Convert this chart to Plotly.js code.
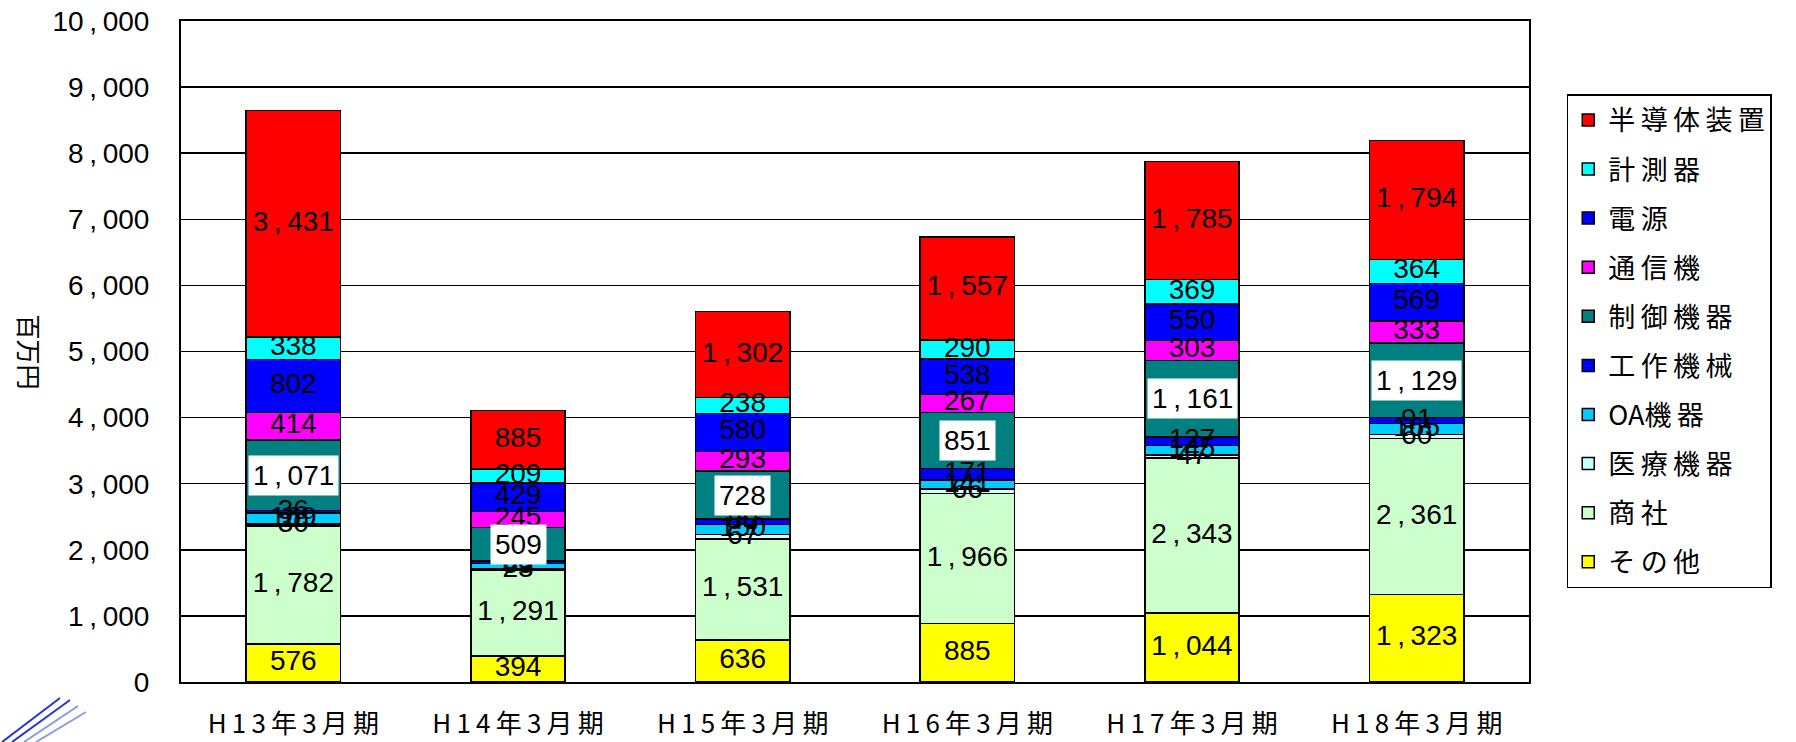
<!DOCTYPE html>
<html>
<head>
<meta charset="utf-8">
<script src="https://cdn.plot.ly/plotly-3.0.1.min.js"></script>
<style>
  html, body { margin: 0; padding: 0; background: #fff; }
  #chart { width: 1796px; height: 742px; }
</style>
</head>
<body>
<div id="chart"></div>
<script>
// 決算期
var categories = ['H13年3月期', 'H14年3月期', 'H15年3月期', 'H16年3月期', 'H17年3月期', 'H18年3月期'];

// 売上（百万円）、下から積み上げ順
var sonota   = [576, 394, 636, 885, 1044, 1323];
var shosha   = [1782, 1291, 1531, 1966, 2343, 2361];
var iryo     = [30, 23, 67, 66, 47, 60];
var oa       = [169, 83, 150, 141, 145, 165];
var kosaku   = [36, 38, 80, 171, 127, 91];
var seigyo   = [1071, 509, 728, 851, 1161, 1129];
var tsushin  = [414, 245, 293, 267, 303, 333];
var dengen   = [802, 429, 580, 538, 550, 569];
var keisoku  = [338, 209, 238, 290, 369, 364];
var handotai = [3431, 885, 1302, 1557, 1785, 1794];

var names  = ['その他', '商社', '医療機器', 'OA機器', '工作機械', '制御機器', '通信機', '電源', '計測器', '半導体装置'];
var values = [sonota, shosha, iryo, oa, kosaku, seigyo, tsushin, dengen, keisoku, handotai];
var colors = ['#FFFF00', '#CCFFCC', '#CCFFFF', '#00CCFF', '#0000FF', '#008080', '#FF00FF', '#0000FF', '#00FFFF', '#FF0000'];

var yTicks = [0, 1000, 2000, 3000, 4000, 5000, 6000, 7000, 8000, 9000, 10000];

function fmt(v) {
    // Excel風のカンマ（前後に少し間隔）
    var s = String(v);
    if (s.length > 3) s = s.slice(0, s.length - 3) + '\u2009,\u2009' + s.slice(s.length - 3);
    return s;
}

function spaced(s) {
    return s.split('').join('\u2009');
}

var labelFont = { family: 'Liberation Sans, Arial, sans-serif', size: 28, color: '#000' };

var data = [];
var annotations = [];
var base = categories.map(function() { return 0; });

for (var i = 0; i < names.length; i++) {
    data.push({
        type: 'bar',
        name: names[i] === 'OA機器' ? 'OA' + spaced('機器') : spaced(names[i]),
        legendgroup: 'g' + i,
        legendrank: 100 - i,
        x: categories,
        y: values[i],
        marker: { color: colors[i], line: { color: '#000', width: 1.5 } },
        hoverinfo: 'name+y'
    });

    var mids = values[i].map(function(v, j) { return base[j] + v / 2; });

    if (names[i] === '制御機器') {
        // 白地のラベル
        for (var j = 0; j < categories.length; j++) {
            annotations.push({
                x: categories[j], y: mids[j], xref: 'x', yref: 'y',
                text: fmt(values[i][j]), showarrow: false,
                font: labelFont, bgcolor: '#fff', borderpad: 4
            });
        }
    } else {
        data.push({
            type: 'scatter',
            mode: 'text',
            x: categories,
            y: mids,
            text: values[i].map(fmt),
            textfont: labelFont,
            textposition: 'middle center',
            showlegend: false,
            hoverinfo: 'skip',
            cliponaxis: false
        });
    }
    base = base.map(function(b, j) { return b + values[i][j]; });
}

// 縦書きの単位
annotations.push({
    xref: 'paper', yref: 'paper', x: -0.112, y: 0.5, xanchor: 'center', yanchor: 'middle',
    text: '百万円', textangle: 90, showarrow: false,
    font: { family: 'Noto Sans CJK JP', size: 25, color: '#000' }
});

// 左下のロゴ線
var shapes = [];
var logo = [[2, 742, 60, 698], [12, 742, 70, 700], [24, 742, 78, 706], [36, 742, 86, 712]];
logo.forEach(function(p, k) {
    shapes.push({
        type: 'line', xref: 'paper', yref: 'paper',
        x0: (p[0] - 181) / 1348, y0: (682 - p[1]) / 661,
        x1: (p[2] - 181) / 1348, y1: (682 - p[3]) / 661,
        line: { color: k < 2 ? '#2233DD' : '#8899EE', width: 2 }
    });
});

var layout = {
    width: 1796,
    height: 742,
    margin: { l: 181, r: 267, t: 21, b: 60 },
    paper_bgcolor: '#fff',
    plot_bgcolor: '#fff',
    barmode: 'stack',
    bargap: 0.58,
    font: { family: 'Noto Sans CJK JP, sans-serif', color: '#000' },
    xaxis: {
        type: 'category',
        tickvals: categories,
        ticktext: categories.map(spaced),
        showline: true, linecolor: '#000', linewidth: 2, mirror: true,
        ticks: '', showgrid: false,
        ticklabelstandoff: 18,
        tickfont: { family: 'Noto Sans CJK JP, sans-serif', size: 26, color: '#000' }
    },
    yaxis: {
        range: [0, 10000],
        tickvals: yTicks,
        ticktext: yTicks.map(fmt),
        showline: true, linecolor: '#000', linewidth: 2, mirror: true,
        showgrid: true, gridcolor: '#000', gridwidth: 1.5,
        zeroline: false, ticks: '', ticklen: 0,
        ticklabelstandoff: 24,
        tickfont: { family: 'Liberation Sans, Arial, sans-serif', size: 28, color: '#000' }
    },
    legend: {
        x: 1.028, xanchor: 'left', y: 0.889, yanchor: 'top',
        traceorder: 'grouped',
        tracegroupgap: 11,
        bordercolor: '#000', borderwidth: 1.5, bgcolor: '#fff',
        font: { family: 'Noto Sans CJK JP, sans-serif', size: 27, color: '#000' }
    },
    annotations: annotations,
    shapes: shapes,
    showlegend: true
};

Plotly.newPlot('chart', data, layout, { displayModeBar: false, staticPlot: true });
</script>
</body>
</html>
